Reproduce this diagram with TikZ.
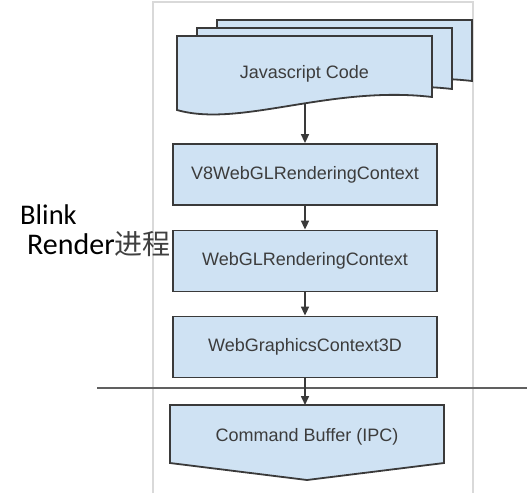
\documentclass[tikz,border=0pt]{standalone}
\usepackage{fontspec}
\setmainfont{Liberation Sans}
\newfontfamily\lblfont{Carlito}
\newfontfamily\cjkfont{Noto Sans CJK SC}
\usetikzlibrary{arrows.meta}
\definecolor{boxfill}{HTML}{CFE2F3}
\definecolor{boxline}{HTML}{3A3A3A}
\definecolor{txt}{HTML}{3C3C3C}
\definecolor{framec}{HTML}{D9D9D9}
\definecolor{sepline}{HTML}{606060}
\begin{document}
\begin{tikzpicture}[x=1pt,y=-1pt,
  box/.style={draw=boxline,fill=boxfill,line width=1.8pt,minimum width=264pt,
    minimum height=61pt,inner sep=0pt,font=\fontsize{18}{20}\selectfont,text=txt},
  boxtext/.style={inner sep=0pt,font=\fontsize{18}{20}\selectfont,text=txt},
  arr/.style={-{Triangle[width=8pt,length=9pt]},line width=1.6pt,draw=boxline},
  pg/.style={draw=boxline,fill=boxfill,line width=1.8pt,line join=miter},
  lbl/.style={anchor=base west,inner sep=0pt}]
\useasboundingbox (0,0) rectangle (529,493);
% frame
\draw[framec,line width=2pt] (153,493) -- (153,2) -- (473,2) -- (473,493);
% stacked document pages
\foreach \dx/\dy in {40/-16,20/-8,0/0}
  \draw[pg,shift={(\dx,\dy)}] (177,36) -- (432,36) -- (432,97)
    .. controls (330,85) and (240,128) .. (177,110) -- cycle;
\node[boxtext] (js) at (304.5,74) {Javascript Code};
\coordinate (jsb) at (305,103);
% boxes
\node[box] (v8) at (305,174.5) {V8WebGLRenderingContext};
\node[box] (webgl) at (305,261) {WebGLRenderingContext};
\node[box] (wgc) at (305,347) {WebGraphicsContext3D};
% command buffer
\draw[pg] (170,405) -- (444,405) -- (444,463) -- (307,480) -- (170,463) -- cycle;
\node[boxtext] (cb) at (307,437) {Command Buffer (IPC)};
\coordinate (cbtop) at (305,405);
% separator
\draw[sepline,line width=1.5pt] (97,388) -- (527,388);
% arrows
\draw[arr] (jsb) -- (v8.north);
\draw[arr] (v8.south) -- (webgl.north);
\draw[arr] (webgl.south) -- (wgc.north);
\draw[arr] (wgc.south) -- (cbtop);
% labels
\node[lbl,font=\lblfont\fontsize{28.5}{30}\selectfont] (blink) at (20,224) {Blink};
\node[lbl,font=\lblfont\fontsize{30}{32}\selectfont] (render) at (27,254) {Render{\cjkfont\fontsize{28}{30}\selectfont\color{black!75}进程}};
\end{tikzpicture}
\end{document}
